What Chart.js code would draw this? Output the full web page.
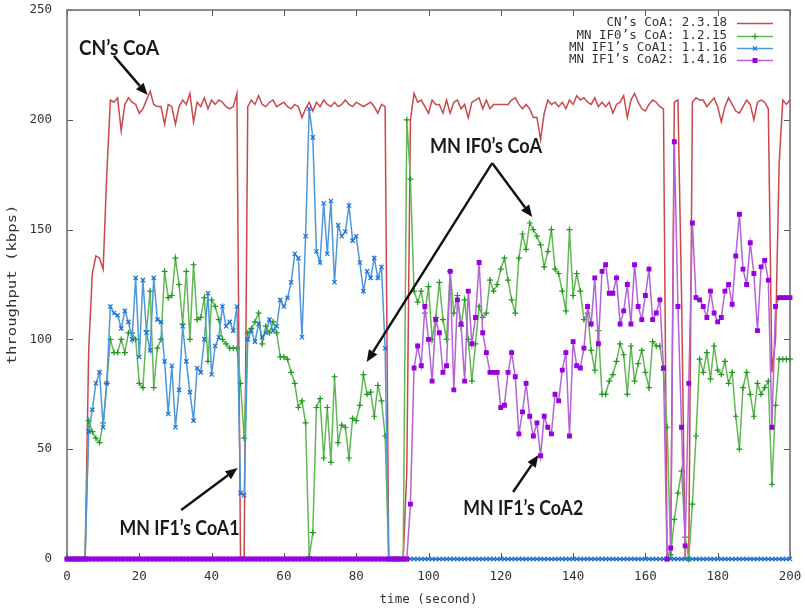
<!DOCTYPE html>
<html><head><meta charset="utf-8">
<script src="https://cdn.jsdelivr.net/npm/chart.js@4/dist/chart.umd.min.js"></script>
<style>html,body{margin:0;padding:0;background:#fff}#wrap{width:805px;height:610px}</style>
</head><body><div id="wrap"><canvas id="c" width="805" height="610"></canvas></div>
<script>
// time axis: one sample per second, starting at 0
const startSecond = 0;
const stepSecond = 1;

const seriesNames = ["CN\u2019s CoA: 2.3.18", "MN IF0\u2019s CoA: 1.2.15", "MN IF1\u2019s CoA1: 1.1.16", "MN IF1\u2019s CoA2: 1.4.16"];

const cnCoA = [
  0,0,0,0,0,0,95,130,138,137,
  132,175,209,208,210,195,207,210,208,207,
  203,205,209,213,207,206,206,198,207,206,
  198,206,209,207,212,199,208,206,210,205,
  209,207,209,208,206,205,206,212,0,0,
  206,209,207,211,207,206,208,209,206,207,
  208,206,205,207,206,201,205,208,204,208,
  206,209,207,206,208,206,207,209,207,206,
  208,207,206,207,208,206,203,207,206,0,
  0,0,0,0,40,200,212,208,209,206,
  203,209,207,207,203,209,203,208,209,205,
  207,201,208,209,210,205,209,205,207,207,
  207,207,207,209,210,207,205,207,205,201,
  201,191,203,209,207,208,206,208,205,209,
  207,211,209,210,208,207,210,206,208,206,
  208,203,207,208,211,201,209,212,208,205,
  204,207,209,208,206,205,0,0,208,209,
  120,0,0,208,210,209,209,206,208,210,
  206,199,206,210,207,204,203,206,209,207,
  200,208,209,208,205,85,100,180,209,207,
  209
];

const if0CoA = [
  0,0,0,0,0,0,63,58,55,53,
  62,80,100,94,94,100,94,103,103,100,
  80,78,104,122,78,96,100,131,119,120,
  137,125,107,131,100,134,109,110,119,90,
  118,115,109,100,98,96,96,96,80,55,
  103,105,108,112,98,106,103,108,103,92,
  92,91,85,80,69,72,62,1,12,69,
  73,46,69,44,83,53,61,60,46,64,
  63,70,84,75,76,65,79,72,56,0,
  0,0,0,0,200,173,122,117,122,112,
  124,100,110,126,109,100,131,112,120,106,
  118,100,81,98,115,110,112,127,122,125,
  132,137,127,118,112,137,148,141,153,150,
  147,143,133,140,150,132,130,122,113,150,
  120,130,122,109,112,95,86,104,75,75,
  81,84,90,98,93,75,97,81,89,95,
  85,78,99,97,97,86,60,2,18,30,
  40,10,0,25,56,91,85,94,82,97,
  86,84,90,80,85,65,50,78,85,75,
  65,80,75,78,81,34,70,91,91,91,
  91
];

const if1CoA1 = [
  0,0,0,0,0,0,58,68,80,85,
  60,80,115,112,111,105,113,108,100,128,
  92,127,103,95,128,109,108,90,66,88,
  60,77,106,90,76,63,87,85,100,121,
  84,97,101,115,106,108,104,115,30,29,
  100,104,99,107,101,103,109,104,106,118,
  115,119,126,139,137,101,147,205,192,140,
  135,162,139,163,126,152,147,149,161,145,
  147,135,122,131,128,137,128,133,96,0,
  0,0,0,0,0,0,0,0,0,0,
  0,0,0,0,0,0,0,0,0,0,
  0,0,0,0,0,0,0,0,0,0,
  0,0,0,0,0,0,0,0,0,0,
  0,0,0,0,0,0,0,0,0,0,
  0,0,0,0,0,0,0,0,0,0,
  0,0,0,0,0,0,0,0,0,0,
  0,0,0,0,0,0,0,0,0,0,
  0,0,0,0,0,0,0,0,0,0,
  0,0,0,0,0,0,0,0,0,0,
  0,0,0,0,0,0,0,0,0,0,
  0
];

const if1CoA2 = [
  0,0,0,0,0,0,0,0,0,0,
  0,0,0,0,0,0,0,0,0,0,
  0,0,0,0,0,0,0,0,0,0,
  0,0,0,0,0,0,0,0,0,0,
  0,0,0,0,0,0,0,0,0,0,
  0,0,0,0,0,0,0,0,0,0,
  0,0,0,0,0,0,0,0,0,0,
  0,0,0,0,0,0,0,0,0,0,
  0,0,0,0,0,0,0,0,0,0,
  0,0,0,0,0,25,87,97,88,115,
  100,81,109,103,85,88,131,77,118,107,
  81,122,98,110,135,103,94,85,85,85,
  69,70,85,94,83,57,67,80,65,56,
  62,47,65,60,57,75,72,86,94,56,
  99,88,87,96,115,107,128,98,131,134,
  121,121,128,107,113,125,107,134,115,109,
  120,132,109,112,118,87,0,5,190,115,
  60,6,80,153,119,118,115,110,122,112,
  108,110,122,125,116,138,157,132,125,144,
  130,104,133,136,127,60,115,119,119,119,
  119
];

const xTicks = [0,20,40,60,80,100,120,140,160,180,200];
const yTicks = [0,50,100,150,200,250];
const xTitle = "time (second)";
const yTitle = "throughput (kbps)";

// callouts: text, centre (seconds, kbps), arrows in data units
const callouts = [
  {text: "CN\u2019s CoA", x: 14.4, y: 232.7, w: 80, arrows: [[13.0, 229.1, 22.3, 211.3]]},
  {text: "MN IF0\u2019s CoA", x: 115.9, y: 188.1, w: 112, arrows: [[117.6, 180.3, 128.7, 155.7], [117.6, 180.3, 82.9, 89.7]]},
  {text: "MN IF1\u2019s CoA1", x: 31.1, y: 14.1, w: 120, arrows: [[31.6, 22.3, 47.2, 41.4]]},
  {text: "MN IF1\u2019s CoA2", x: 126.2, y: 23.2, w: 120, arrows: [[123.4, 30.5, 130.4, 47.4]]}
];

const toXY = arr => arr.map((v, i) => ({x: startSecond + i * stepSecond, y: v}));

const styles = [
  {line: '#c9484b', pt: false, pstyle: 'line', pcol: '#c9484b'},
  {line: '#62b855', pt: true, pstyle: 'cross', pcol: '#1e9a1e', r: 3},
  {line: '#4f97da', pt: true, pstyle: 'crossRot', pcol: '#1a6fd6', r: 3},
  {line: '#b463d9', pt: true, pstyle: 'rect', pcol: '#9800df', r: 2.6}
];
const allSeries = [cnCoA, if0CoA, if1CoA1, if1CoA2];

const datasets = allSeries.map((arr, i) => ({
  label: seriesNames[i],
  data: toXY(arr),
  borderColor: styles[i].line,
  borderWidth: 1.5,
  pointRadius: styles[i].pt ? styles[i].r : 0,
  pointStyle: styles[i].pstyle,
  pointBorderColor: styles[i].pcol,
  pointBackgroundColor: styles[i].pcol,
  pointBorderWidth: 1.2,
  tension: 0,
  clip: false,
  order: 4 - i
}));

const MONO = '"DejaVu Sans Mono", "Liberation Mono", monospace';

function fitText(ctx, str, cx, cy, font, targetW, color) {
  ctx.save();
  ctx.font = font;
  const w = ctx.measureText(str).width;
  const sx = targetW ? targetW / w : 1;
  ctx.translate(cx, cy);
  ctx.scale(sx, 1);
  ctx.fillStyle = color;
  ctx.textAlign = 'center';
  ctx.textBaseline = 'middle';
  ctx.fillText(str, 0, 0);
  ctx.restore();
}

function arrow(ctx, x1, y1, x2, y2) {
  const ang = Math.atan2(y2 - y1, x2 - x1);
  const L = 12, H = 5;
  const bx = x2 - L * Math.cos(ang), by = y2 - L * Math.sin(ang);
  ctx.beginPath();
  ctx.moveTo(x1, y1);
  ctx.lineTo(bx, by);
  ctx.stroke();
  ctx.beginPath();
  ctx.moveTo(x2, y2);
  ctx.lineTo(bx + H * Math.sin(ang), by - H * Math.cos(ang));
  ctx.lineTo(bx - H * Math.sin(ang), by + H * Math.cos(ang));
  ctx.closePath();
  ctx.fill();
}

const deco = {
  id: 'deco',
  beforeDatasetsDraw(chart) {
    const {ctx, chartArea: a, scales: {x, y}} = chart;
    ctx.save();
    ctx.strokeStyle = '#555';
    ctx.lineWidth = 1;
    ctx.beginPath();
    xTicks.forEach(t => {
      const px = Math.round(x.getPixelForValue(t)) + 0.5;
      ctx.moveTo(px, a.bottom); ctx.lineTo(px, a.bottom - 6);
      ctx.moveTo(px, a.top); ctx.lineTo(px, a.top + 6);
    });
    yTicks.forEach(t => {
      const py = Math.round(y.getPixelForValue(t)) + 0.5;
      ctx.moveTo(a.left, py); ctx.lineTo(a.left + 6, py);
      ctx.moveTo(a.right, py); ctx.lineTo(a.right - 6, py);
    });
    ctx.stroke();
    ctx.strokeStyle = '#707070';
    ctx.lineWidth = 1.6;
    ctx.strokeRect(a.left, a.top, a.right - a.left, a.bottom - a.top);
    ctx.restore();
  },
  afterDraw(chart) {
    const {ctx, chartArea: a, scales: {x, y}} = chart;
    // axis titles
    fitText(ctx, xTitle, (a.left + a.right) / 2, 600, '12.5px ' + MONO, 0, '#333');
    ctx.save();
    ctx.translate(13, (a.top + a.bottom) / 2);
    ctx.rotate(-Math.PI / 2);
    fitText(ctx, yTitle, 0, 0, '12.5px ' + MONO, 160, '#333');
    ctx.restore();

    // legend
    ctx.save();
    ctx.font = '12.5px ' + MONO;
    ctx.textAlign = 'right';
    ctx.textBaseline = 'middle';
    const rowsY = [23, 36, 48, 60];
    seriesNames.forEach((nm, i) => {
      const ry = rowsY[i];
      ctx.fillStyle = '#333';
      ctx.fillText(nm, a.right - 63, ry);
      ctx.strokeStyle = styles[i].line;
      ctx.lineWidth = 1.5;
      ctx.beginPath();
      ctx.moveTo(a.right - 53, ry + 0.5);
      ctx.lineTo(a.right - 17, ry + 0.5);
      ctx.stroke();
      if (styles[i].pt) {
        ctx.fillStyle = styles[i].pcol; ctx.strokeStyle = styles[i].pcol;
        ctx.lineWidth = 1.2;
        Chart.helpers.drawPoint(ctx, {
          pointStyle: styles[i].pstyle, radius: styles[i].r, borderWidth: 1.2, rotation: 0
        }, a.right - 35, ry + 0.5);
      }
    });
    ctx.restore();

    // callouts
    ctx.save();
    ctx.strokeStyle = '#111';
    ctx.fillStyle = '#111';
    ctx.lineWidth = 2.4;
    callouts.forEach(c => {
      c.arrows.forEach(ar => {
        arrow(ctx, x.getPixelForValue(ar[0]), y.getPixelForValue(ar[1]),
                   x.getPixelForValue(ar[2]), y.getPixelForValue(ar[3]));
      });
      fitText(ctx, c.text, x.getPixelForValue(c.x), y.getPixelForValue(c.y),
              'bold 21px Lato, "Open Sans", sans-serif', c.w, '#1a1a1a');
    });
    ctx.restore();
  }
};

new Chart(document.getElementById('c'), {
  type: 'line',
  data: {datasets},
  options: {
    responsive: false,
    animation: false,
    devicePixelRatio: 1,
    layout: {padding: {top: 10, right: 15, left: 0, bottom: 0}},
    plugins: {legend: {display: false}, tooltip: {enabled: false}},
    scales: {
      x: {
        type: 'linear', min: 0, max: 200,
        afterFit: s => { s.height = 51; s.paddingLeft = 0; s.paddingRight = 0; },
        afterBuildTicks: s => { s.ticks = xTicks.map(v => ({value: v})); },
        ticks: {font: {family: MONO, size: 12.5}, color: '#333', padding: 10, maxRotation: 0},
        grid: {display: false, drawTicks: false},
        border: {display: false}
      },
      y: {
        min: 0, max: 250,
        afterFit: s => { s.width = 67; s.paddingTop = 0; s.paddingBottom = 0; },
        afterBuildTicks: s => { s.ticks = yTicks.map(v => ({value: v})); },
        ticks: {font: {family: MONO, size: 12.5}, color: '#333', padding: 15},
        grid: {display: false, drawTicks: false},
        border: {display: false}
      }
    }
  },
  plugins: [deco]
});
</script>
</body></html>
